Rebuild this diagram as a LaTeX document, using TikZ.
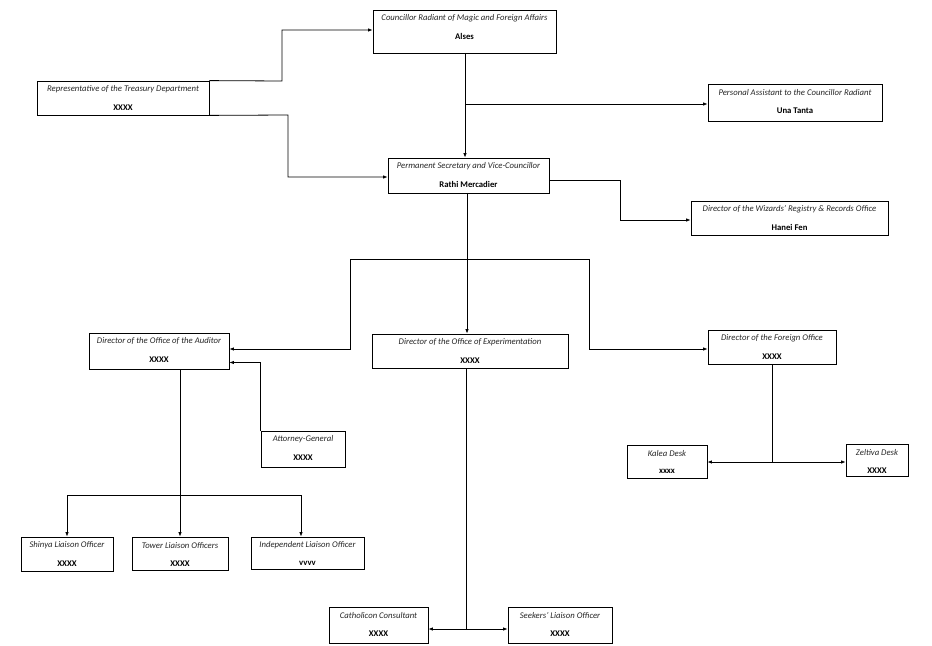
\documentclass[tikz,border=0pt]{standalone}
\usepackage{fontspec}
\setmainfont{Carlito}
\usetikzlibrary{arrows.meta,calc}
\tikzset{
  orgbox/.style={draw=black, line width=0.8bp, rectangle, inner sep=0pt, fill=white},
  itl/.style={font=\fontsize{8.7bp}{10bp}\selectfont\itshape, inner sep=0pt, text=black!85},
  bld/.style={font=\fontsize{8.7bp}{10bp}\selectfont\bfseries, inner sep=0pt},
  conn/.style={draw=black, line width=0.8bp},
  arr/.style={conn, -{Latex[length=4.5bp,width=3.5bp]}},
  darr/.style={conn, {Latex[length=4.5bp,width=3.5bp]}-{Latex[length=4.5bp,width=3.5bp]}}
}
\newcommand\orgunit[7]{%
  \node[orgbox, minimum width={(#4-#2)*1bp}, minimum height={(#5-#3)*1bp}] (#1) at ({(#2+#4)/2},{(#3+#5)/2}) {};
  \node[itl] (#1-t) at ([yshift=-8.5bp]#1.north) {#6};
  \node[bld] (#1-b) at ([yshift=-27bp]#1.north) {#7};
}
\begin{document}
\begin{tikzpicture}[x=1bp,y=-1bp]
\useasboundingbox[fill=white] (0,0) rectangle (932,646);

\orgunit{coun}{373}{10}{556}{53}{Councillor Radiant of Magic and Foreign Affairs}{Alses}
\orgunit{treas}{37}{81}{209}{115}{Representative of the Treasury Department}{XXXX}
\orgunit{pa}{708}{84}{882}{121}{Personal Assistant to the Councillor Radiant}{Una Tanta}
\orgunit{perm}{388}{158}{549}{193}{Permanent Secretary and Vice-Councillor}{Rathi Mercadier}
\orgunit{wiz}{691}{201}{888}{235}{Director of the Wizards’ Registry \& Records Office}{Hanei Fen}
\orgunit{aud}{89}{333}{229}{369}{Director of the Office of the Auditor}{XXXX}
\orgunit{exp}{372}{334}{568}{368}{Director of the Office of Experimentation}{XXXX}
\orgunit{for}{708}{330}{836}{364}{Director of the Foreign Office}{XXXX}
\orgunit{att}{261}{431}{345}{467}{Attorney-General}{XXXX}
\orgunit{kal}{627}{445}{707}{478}{Kalea Desk}{xxxx}
\orgunit{zel}{846}{444}{908}{476}{Zeltiva Desk}{XXXX}
\orgunit{shi}{21}{537}{113}{571}{Shinya Liaison Officer}{XXXX}
\orgunit{tow}{132}{537}{228}{570}{Tower Liaison Officers}{XXXX}
\orgunit{ind}{251}{537}{364}{569}{Independent Liaison Officer}{vvvv}
\orgunit{cat}{329}{607}{428}{643}{Catholicon Consultant}{XXXX}
\orgunit{seek}{508}{607}{612}{643}{Seekers’ Liaison Officer}{XXXX}

% top connectors
\draw[arr] (treas.north east) -- (282,81) |- ([yshift=1.5bp]coun.west);
\draw[arr] (treas.south east) -- (288,115) |- ([yshift=-1.5bp]perm.west);
\coordinate (cdown) at (465,53);
\draw[arr] (cdown) -- (cdown |- perm.north);
\coordinate (pajoin) at (465,104);
\draw[arr] (pajoin) -- (pa.west |- pajoin);
\coordinate (permr) at (549,180);
\draw[arr] (permr) -- (620,180) |- ([yshift=-2bp]wiz.west);

% middle branch
\coordinate (pdown) at (467,193);
\draw[arr] (pdown) -- (pdown |- exp.north);
\coordinate (bL) at (350,259);
\coordinate (bR) at (589,259);
\draw[conn] (bL) -- (bR);
\draw[arr] (bL) |- ([yshift=2bp]aud.east);
\draw[arr] (bR) |- ([yshift=-2bp]for.west);
\draw[arr] (att.north west) |- ([yshift=-11.5bp]aud.east);

% auditor children
\coordinate (adown) at (180,369);
\draw[arr] (adown) -- (adown |- tow.north);
\coordinate (aL) at (67,495);
\coordinate (aR) at (301,495);
\draw[conn] (aL) -- (aR);
\draw[arr] (aL) -- (aL |- shi.north);
\draw[arr] (aR) -- (aR |- ind.north);

% experimentation children
\coordinate (edown) at (466,368);
\coordinate (ejoin) at (466,629);
\draw[conn] (edown) -- (ejoin);
\draw[darr] (cat.east |- ejoin) -- (seek.west |- ejoin);

% foreign office children
\coordinate (fdown) at (772,364);
\coordinate (fjoin) at (772,462);
\draw[conn] (fdown) -- (fjoin);
\draw[darr] (kal.east |- fjoin) -- (zel.west |- fjoin);
\end{tikzpicture}
\end{document}
